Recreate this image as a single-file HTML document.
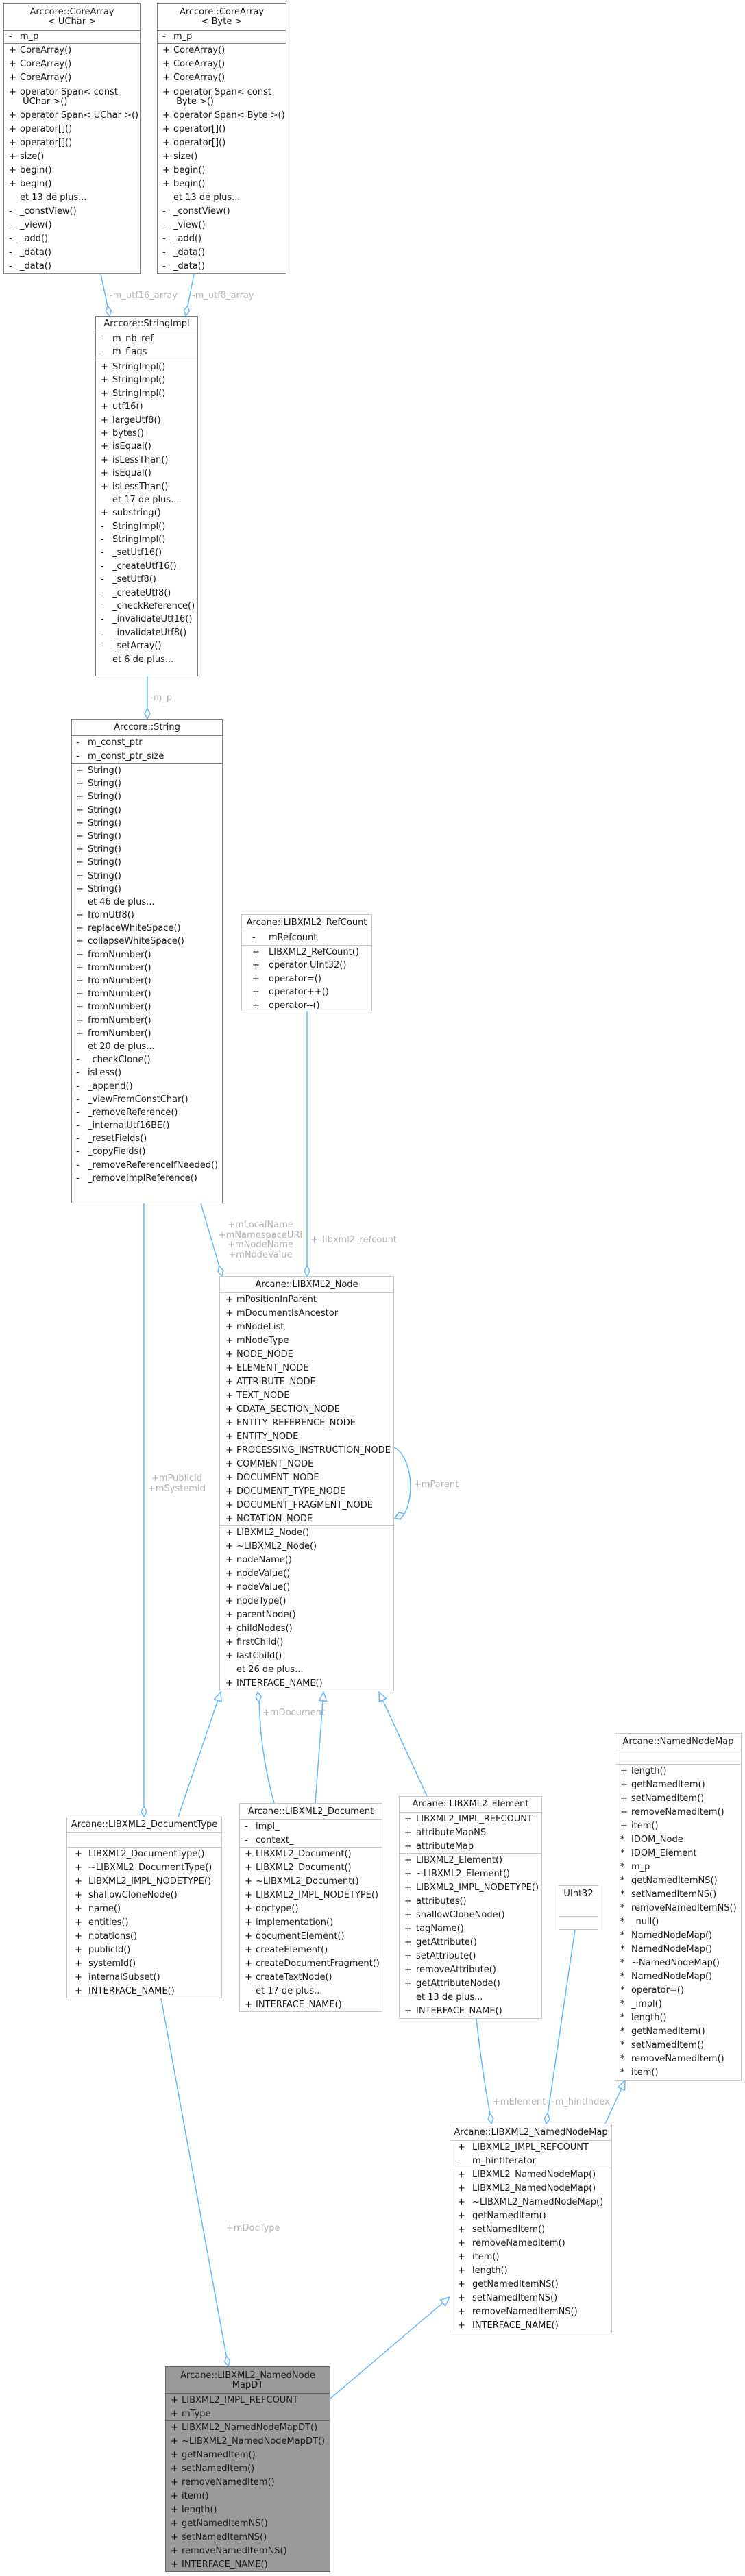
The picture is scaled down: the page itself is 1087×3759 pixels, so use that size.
<!DOCTYPE html>
<html><head><meta charset="utf-8">
<style>
html,body{margin:0;padding:0;background:#fff}
body{width:1087px;height:3759px;position:relative;overflow:hidden;font-family:"DejaVu Sans","Liberation Sans",sans-serif;font-size:13px;color:#1a1a1a}
svg{position:absolute;left:0;top:0}
.box{position:absolute;box-sizing:border-box;border:1px solid #c8c8c8;background:#fff;overflow:hidden;--rh:20px;--sx:8px;--nx:24px}
.dk{border-color:#7f7f7f}
.dk .s{border-color:#7f7f7f}
.t{text-align:center;box-sizing:border-box;white-space:nowrap}
.s{border-top:1px solid #c8c8c8;box-sizing:border-box}
.r{position:relative;height:var(--rh);line-height:var(--rh);padding-left:var(--nx);white-space:nowrap}
.r b{position:absolute;left:var(--sx);top:0;font-weight:normal}
.r2{position:relative;height:35px;line-height:14px;padding-left:var(--nx);padding-top:4px;box-sizing:border-box;white-space:nowrap}
.r2 b{position:absolute;left:var(--sx);top:4px;font-weight:normal}
.gr{background:#999;border-color:#666}
.gr .s{border-color:#666}
.lb{fill:#b3b3b3;font-family:"DejaVu Sans","Liberation Sans",sans-serif;font-size:13px}
</style></head><body>
<svg width="1087" height="3759" viewBox="0 0 1087 3759">
<g fill="none" stroke="#63b8ff" stroke-width="1.5">
<path d="M147,400 L156.9,446.3"/>
<path d="M283,400 L273.9,446.3"/>
<path d="M215,987 L215,1034"/>
<path d="M293,1756 L319.8,1847.6"/>
<path d="M448,1476 L448,1847"/>
<path d="M210,1756 L210,2636"/>
<path d="M575,2112 C600,2125 606,2180 590,2209"/>
<path d="M317.8,2481.3 L260,2651"/>
<path d="M378.2,2483.8 Q380,2560 400,2631"/>
<path d="M471,2482 L460,2631"/>
<path d="M558.4,2480.8 L623,2621"/>
<path d="M695,2946 Q703,3020 714.9,3084.2"/>
<path d="M839,2816 L799.2,3084.2"/>
<path d="M906.6,3047.8 L883,3099"/>
<path d="M235,2916 L330.3,3438.3"/>
<path d="M646.1,3360.4 L482,3500"/>
</g>
<g fill="#fff" stroke="#63b8ff" stroke-width="1.5">
<polygon points="160,461 162.3,452.8 156.9,446.3 154.5,454.4"/>
<polygon points="271,461 276.3,454.4 273.9,446.3 268.5,452.8"/>
<polygon points="215,1049 219,1041.5 215,1034 211,1041.5"/>
<polygon points="324,1862 325.7,1853.7 319.8,1847.6 318.1,1855.9"/>
<polygon points="448,1862 452,1854.5 448,1847 444,1854.5"/>
<polygon points="210,2651 214,2643.5 210,2636 206,2643.5"/>
<polygon points="576,2215 584,2217 590,2209 582,2207"/>
<polygon points="322,2469 323,2483 312.6,2479.5"/>
<polygon points="376,2469 381,2475.8 378.2,2483.8 373.1,2477"/>
<polygon points="472,2469 476.5,2482.4 465.5,2481.6"/>
<polygon points="553,2469 563.4,2478.5 553.4,2483.1"/>
<polygon points="717,3099 719.9,3091 714.9,3084.2 712,3092.2"/>
<polygon points="797,3099 802.1,3092.2 799.2,3084.2 794.1,3091"/>
<polygon points="912,3036 911.6,3050.1 901.6,3045.5"/>
<polygon points="333,3453 335.6,3444.9 330.3,3438.3 327.8,3446.3"/>
<polygon points="656,3352 649.7,3364.6 642.5,3356.2"/>
</g>
<text class="lb" x="160" y="435">-m_utf16_array</text>
<text class="lb" x="280" y="435">-m_utf8_array</text>
<text class="lb" x="219" y="1022">-m_p</text>
<text class="lb" x="380" y="1791" text-anchor="middle">+mLocalName</text>
<text class="lb" x="380" y="1806" text-anchor="middle">+mNamespaceURI</text>
<text class="lb" x="380" y="1820" text-anchor="middle">+mNodeName</text>
<text class="lb" x="380" y="1835" text-anchor="middle">+mNodeValue</text>
<text class="lb" x="453" y="1813">+_libxml2_refcount</text>
<text class="lb" x="258" y="2161" text-anchor="middle">+mPublicId</text>
<text class="lb" x="258" y="2176" text-anchor="middle">+mSystemId</text>
<text class="lb" x="604" y="2170">+mParent</text>
<text class="lb" x="383" y="2503">+mDocument</text>
<text class="lb" x="719" y="3071">+mElement</text>
<text class="lb" x="805" y="3071">-m_hintIndex</text>
<text class="lb" x="330" y="3255">+mDocType</text>
</svg>

<!-- CoreArray UChar -->
<div class="box dk" style="left:5px;top:5px;width:200px;height:395px;--sx:7px;--nx:23px">
<div class="t" style="height:38px;line-height:14px;padding-top:5px">Arccore::CoreArray<br>&lt; UChar &gt;</div>
<div class="s" style="height:19px"><div class="r" style="--rh:18px"><b>-</b>m_p</div></div>
<div class="s">
<div class="r"><b>+</b>CoreArray()</div><div class="r"><b>+</b>CoreArray()</div><div class="r"><b>+</b>CoreArray()</div>
<div class="r2"><b>+</b>operator Span&lt; const<br>&nbsp;UChar &gt;()</div>
<div class="r"><b>+</b>operator Span&lt; UChar &gt;()</div>
<div class="r"><b>+</b>operator[]()</div><div class="r"><b>+</b>operator[]()</div>
<div class="r"><b>+</b>size()</div><div class="r"><b>+</b>begin()</div><div class="r"><b>+</b>begin()</div>
<div class="r">et 13 de plus...</div>
<div class="r"><b>-</b>_constView()</div><div class="r"><b>-</b>_view()</div><div class="r"><b>-</b>_add()</div><div class="r"><b>-</b>_data()</div><div class="r"><b>-</b>_data()</div>
</div></div>

<!-- CoreArray Byte -->
<div class="box dk" style="left:229px;top:5px;width:189px;height:395px;--sx:7px;--nx:23px">
<div class="t" style="height:38px;line-height:14px;padding-top:5px">Arccore::CoreArray<br>&lt; Byte &gt;</div>
<div class="s" style="height:19px"><div class="r" style="--rh:18px"><b>-</b>m_p</div></div>
<div class="s">
<div class="r"><b>+</b>CoreArray()</div><div class="r"><b>+</b>CoreArray()</div><div class="r"><b>+</b>CoreArray()</div>
<div class="r2"><b>+</b>operator Span&lt; const<br>&nbsp;Byte &gt;()</div>
<div class="r"><b>+</b>operator Span&lt; Byte &gt;()</div>
<div class="r"><b>+</b>operator[]()</div><div class="r"><b>+</b>operator[]()</div>
<div class="r"><b>+</b>size()</div><div class="r"><b>+</b>begin()</div><div class="r"><b>+</b>begin()</div>
<div class="r">et 13 de plus...</div>
<div class="r"><b>-</b>_constView()</div><div class="r"><b>-</b>_view()</div><div class="r"><b>-</b>_add()</div><div class="r"><b>-</b>_data()</div><div class="r"><b>-</b>_data()</div>
</div></div>

<!-- StringImpl -->
<div class="box dk" style="left:139px;top:461px;width:150px;height:526px;--sx:7px;--nx:24px;--rh:19.4px">
<div class="t" style="height:22px;line-height:22px">Arccore::StringImpl</div>
<div class="s" style="height:41px"><div class="r"><b>-</b>m_nb_ref</div><div class="r"><b>-</b>m_flags</div></div>
<div class="s">
<div class="r"><b>+</b>StringImpl()</div><div class="r"><b>+</b>StringImpl()</div><div class="r"><b>+</b>StringImpl()</div>
<div class="r"><b>+</b>utf16()</div><div class="r"><b>+</b>largeUtf8()</div><div class="r"><b>+</b>bytes()</div>
<div class="r"><b>+</b>isEqual()</div><div class="r"><b>+</b>isLessThan()</div><div class="r"><b>+</b>isEqual()</div><div class="r"><b>+</b>isLessThan()</div>
<div class="r">et 17 de plus...</div>
<div class="r"><b>+</b>substring()</div>
<div class="r"><b>-</b>StringImpl()</div><div class="r"><b>-</b>StringImpl()</div>
<div class="r"><b>-</b>_setUtf16()</div><div class="r"><b>-</b>_createUtf16()</div><div class="r"><b>-</b>_setUtf8()</div><div class="r"><b>-</b>_createUtf8()</div>
<div class="r"><b>-</b>_checkReference()</div><div class="r"><b>-</b>_invalidateUtf16()</div><div class="r"><b>-</b>_invalidateUtf8()</div><div class="r"><b>-</b>_setArray()</div>
<div class="r">et 6 de plus...</div>
</div></div>

<!-- String -->
<div class="box dk" style="left:104px;top:1049px;width:221px;height:707px;--sx:6px;--nx:23px;--rh:19.2px">
<div class="t" style="height:23px;line-height:23px">Arccore::String</div>
<div class="s" style="height:41px"><div class="r" style="--rh:19.5px"><b>-</b>m_const_ptr</div><div class="r" style="--rh:19.5px"><b>-</b>m_const_ptr_size</div></div>
<div class="s">
<div class="r"><b>+</b>String()</div><div class="r"><b>+</b>String()</div><div class="r"><b>+</b>String()</div><div class="r"><b>+</b>String()</div><div class="r"><b>+</b>String()</div>
<div class="r"><b>+</b>String()</div><div class="r"><b>+</b>String()</div><div class="r"><b>+</b>String()</div><div class="r"><b>+</b>String()</div><div class="r"><b>+</b>String()</div>
<div class="r">et 46 de plus...</div>
<div class="r"><b>+</b>fromUtf8()</div><div class="r"><b>+</b>replaceWhiteSpace()</div><div class="r"><b>+</b>collapseWhiteSpace()</div>
<div class="r"><b>+</b>fromNumber()</div><div class="r"><b>+</b>fromNumber()</div><div class="r"><b>+</b>fromNumber()</div><div class="r"><b>+</b>fromNumber()</div><div class="r"><b>+</b>fromNumber()</div><div class="r"><b>+</b>fromNumber()</div><div class="r"><b>+</b>fromNumber()</div>
<div class="r">et 20 de plus...</div>
<div class="r"><b>-</b>_checkClone()</div><div class="r"><b>-</b>isLess()</div><div class="r"><b>-</b>_append()</div><div class="r"><b>-</b>_viewFromConstChar()</div>
<div class="r"><b>-</b>_removeReference()</div><div class="r"><b>-</b>_internalUtf16BE()</div><div class="r"><b>-</b>_resetFields()</div><div class="r"><b>-</b>_copyFields()</div>
<div class="r"><b>-</b>_removeReferenceIfNeeded()</div><div class="r"><b>-</b>_removeImplReference()</div>
</div></div>

<!-- RefCount -->
<div class="box" style="left:352px;top:1334px;width:191px;height:142px;--sx:15px;--nx:39px;--rh:19.4px">
<div class="t" style="height:23px;line-height:23px">Arcane::LIBXML2_RefCount</div>
<div class="s" style="height:21px"><div class="r" style="--rh:20px"><b>-</b>mRefcount</div></div>
<div class="s">
<div class="r"><b>+</b>LIBXML2_RefCount()</div><div class="r"><b>+</b>operator UInt32()</div><div class="r"><b>+</b>operator=()</div><div class="r"><b>+</b>operator++()</div><div class="r"><b>+</b>operator--()</div>
</div></div>

<!-- Node -->
<div class="box" style="left:320px;top:1862px;width:255px;height:606px;--sx:8px;--nx:24px">
<div class="t" style="height:23px;line-height:23px">Arcane::LIBXML2_Node</div>
<div class="s" style="height:340px">
<div class="r"><b>+</b>mPositionInParent</div><div class="r"><b>+</b>mDocumentIsAncestor</div><div class="r"><b>+</b>mNodeList</div><div class="r"><b>+</b>mNodeType</div>
<div class="r"><b>+</b>NODE_NODE</div><div class="r"><b>+</b>ELEMENT_NODE</div><div class="r"><b>+</b>ATTRIBUTE_NODE</div><div class="r"><b>+</b>TEXT_NODE</div>
<div class="r"><b>+</b>CDATA_SECTION_NODE</div><div class="r"><b>+</b>ENTITY_REFERENCE_NODE</div><div class="r"><b>+</b>ENTITY_NODE</div>
<div class="r"><b>+</b>PROCESSING_INSTRUCTION_NODE</div><div class="r"><b>+</b>COMMENT_NODE</div><div class="r"><b>+</b>DOCUMENT_NODE</div>
<div class="r"><b>+</b>DOCUMENT_TYPE_NODE</div><div class="r"><b>+</b>DOCUMENT_FRAGMENT_NODE</div><div class="r"><b>+</b>NOTATION_NODE</div>
</div>
<div class="s">
<div class="r"><b>+</b>LIBXML2_Node()</div><div class="r"><b>+</b>~LIBXML2_Node()</div><div class="r"><b>+</b>nodeName()</div><div class="r"><b>+</b>nodeValue()</div>
<div class="r"><b>+</b>nodeValue()</div><div class="r"><b>+</b>nodeType()</div><div class="r"><b>+</b>parentNode()</div><div class="r"><b>+</b>childNodes()</div>
<div class="r"><b>+</b>firstChild()</div><div class="r"><b>+</b>lastChild()</div><div class="r">et 26 de plus...</div><div class="r"><b>+</b>INTERFACE_NAME()</div>
</div></div>

<!-- DocumentType -->
<div class="box" style="left:97px;top:2651px;width:227px;height:265px;--sx:11px;--nx:31px">
<div class="t" style="height:22px;line-height:22px">Arcane::LIBXML2_DocumentType</div>
<div class="s" style="height:21px"></div>
<div class="s">
<div class="r"><b>+</b>LIBXML2_DocumentType()</div><div class="r"><b>+</b>~LIBXML2_DocumentType()</div><div class="r"><b>+</b>LIBXML2_IMPL_NODETYPE()</div>
<div class="r"><b>+</b>shallowCloneNode()</div><div class="r"><b>+</b>name()</div><div class="r"><b>+</b>entities()</div><div class="r"><b>+</b>notations()</div>
<div class="r"><b>+</b>publicId()</div><div class="r"><b>+</b>systemId()</div><div class="r"><b>+</b>internalSubset()</div><div class="r"><b>+</b>INTERFACE_NAME()</div>
</div></div>

<!-- Document -->
<div class="box" style="left:349px;top:2631px;width:209px;height:305px;--sx:7px;--nx:23px">
<div class="t" style="height:23px;line-height:23px">Arcane::LIBXML2_Document</div>
<div class="s" style="height:40px"><div class="r"><b>-</b>impl_</div><div class="r"><b>-</b>context_</div></div>
<div class="s">
<div class="r"><b>+</b>LIBXML2_Document()</div><div class="r"><b>+</b>LIBXML2_Document()</div><div class="r"><b>+</b>~LIBXML2_Document()</div>
<div class="r"><b>+</b>LIBXML2_IMPL_NODETYPE()</div><div class="r"><b>+</b>doctype()</div><div class="r"><b>+</b>implementation()</div>
<div class="r"><b>+</b>documentElement()</div><div class="r"><b>+</b>createElement()</div><div class="r"><b>+</b>createDocumentFragment()</div>
<div class="r"><b>+</b>createTextNode()</div><div class="r">et 17 de plus...</div><div class="r"><b>+</b>INTERFACE_NAME()</div>
</div></div>

<!-- Element -->
<div class="box" style="left:582px;top:2621px;width:209px;height:325px;--sx:7px;--nx:24px">
<div class="t" style="height:22px;line-height:22px">Arcane::LIBXML2_Element</div>
<div class="s" style="height:60px"><div class="r"><b>+</b>LIBXML2_IMPL_REFCOUNT</div><div class="r"><b>+</b>attributeMapNS</div><div class="r"><b>+</b>attributeMap</div></div>
<div class="s">
<div class="r"><b>+</b>LIBXML2_Element()</div><div class="r"><b>+</b>~LIBXML2_Element()</div><div class="r"><b>+</b>LIBXML2_IMPL_NODETYPE()</div>
<div class="r"><b>+</b>attributes()</div><div class="r"><b>+</b>shallowCloneNode()</div><div class="r"><b>+</b>tagName()</div>
<div class="r"><b>+</b>getAttribute()</div><div class="r"><b>+</b>setAttribute()</div><div class="r"><b>+</b>removeAttribute()</div>
<div class="r"><b>+</b>getAttributeNode()</div><div class="r">et 13 de plus...</div><div class="r"><b>+</b>INTERFACE_NAME()</div>
</div></div>

<!-- UInt32 -->
<div class="box" style="left:815px;top:2751px;width:58px;height:65px">
<div class="t" style="height:23px;line-height:23px">UInt32</div>
<div class="s" style="height:21px"></div>
<div class="s"></div>
</div>

<!-- NamedNodeMap -->
<div class="box" style="left:897px;top:2529px;width:185px;height:507px;--sx:7px;--nx:23px">
<div class="t" style="height:23px;line-height:23px">Arcane::NamedNodeMap</div>
<div class="s" style="height:21px"></div>
<div class="s">
<div class="r"><b>+</b>length()</div><div class="r"><b>+</b>getNamedItem()</div><div class="r"><b>+</b>setNamedItem()</div><div class="r"><b>+</b>removeNamedItem()</div><div class="r"><b>+</b>item()</div>
<div class="r"><b>*</b>IDOM_Node</div><div class="r"><b>*</b>IDOM_Element</div><div class="r"><b>*</b>m_p</div>
<div class="r"><b>*</b>getNamedItemNS()</div><div class="r"><b>*</b>setNamedItemNS()</div><div class="r"><b>*</b>removeNamedItemNS()</div><div class="r"><b>*</b>_null()</div>
<div class="r"><b>*</b>NamedNodeMap()</div><div class="r"><b>*</b>NamedNodeMap()</div><div class="r"><b>*</b>~NamedNodeMap()</div><div class="r"><b>*</b>NamedNodeMap()</div>
<div class="r"><b>*</b>operator=()</div><div class="r"><b>*</b>_impl()</div><div class="r"><b>*</b>length()</div><div class="r"><b>*</b>getNamedItem()</div>
<div class="r"><b>*</b>setNamedItem()</div><div class="r"><b>*</b>removeNamedItem()</div><div class="r"><b>*</b>item()</div>
</div></div>

<!-- LIBXML2_NamedNodeMap -->
<div class="box" style="left:656px;top:3099px;width:237px;height:306px;--sx:11px;--nx:32px">
<div class="t" style="height:23px;line-height:23px">Arcane::LIBXML2_NamedNodeMap</div>
<div class="s" style="height:40px"><div class="r"><b>+</b>LIBXML2_IMPL_REFCOUNT</div><div class="r"><b>-</b>m_hintIterator</div></div>
<div class="s">
<div class="r"><b>+</b>LIBXML2_NamedNodeMap()</div><div class="r"><b>+</b>LIBXML2_NamedNodeMap()</div><div class="r"><b>+</b>~LIBXML2_NamedNodeMap()</div>
<div class="r"><b>+</b>getNamedItem()</div><div class="r"><b>+</b>setNamedItem()</div><div class="r"><b>+</b>removeNamedItem()</div>
<div class="r"><b>+</b>item()</div><div class="r"><b>+</b>length()</div><div class="r"><b>+</b>getNamedItemNS()</div>
<div class="r"><b>+</b>setNamedItemNS()</div><div class="r"><b>+</b>removeNamedItemNS()</div><div class="r"><b>+</b>INTERFACE_NAME()</div>
</div></div>

<!-- MapDT -->
<div class="box gr" style="left:241px;top:3453px;width:241px;height:300px;--sx:7px;--nx:23px">
<div class="t" style="height:38px;line-height:14px;padding-top:6px">Arcane::LIBXML2_NamedNode<br>MapDT</div>
<div class="s" style="height:40px"><div class="r"><b>+</b>LIBXML2_IMPL_REFCOUNT</div><div class="r"><b>+</b>mType</div></div>
<div class="s">
<div class="r"><b>+</b>LIBXML2_NamedNodeMapDT()</div><div class="r"><b>+</b>~LIBXML2_NamedNodeMapDT()</div>
<div class="r"><b>+</b>getNamedItem()</div><div class="r"><b>+</b>setNamedItem()</div><div class="r"><b>+</b>removeNamedItem()</div>
<div class="r"><b>+</b>item()</div><div class="r"><b>+</b>length()</div><div class="r"><b>+</b>getNamedItemNS()</div>
<div class="r"><b>+</b>setNamedItemNS()</div><div class="r"><b>+</b>removeNamedItemNS()</div><div class="r"><b>+</b>INTERFACE_NAME()</div>
</div></div>

</body></html>
